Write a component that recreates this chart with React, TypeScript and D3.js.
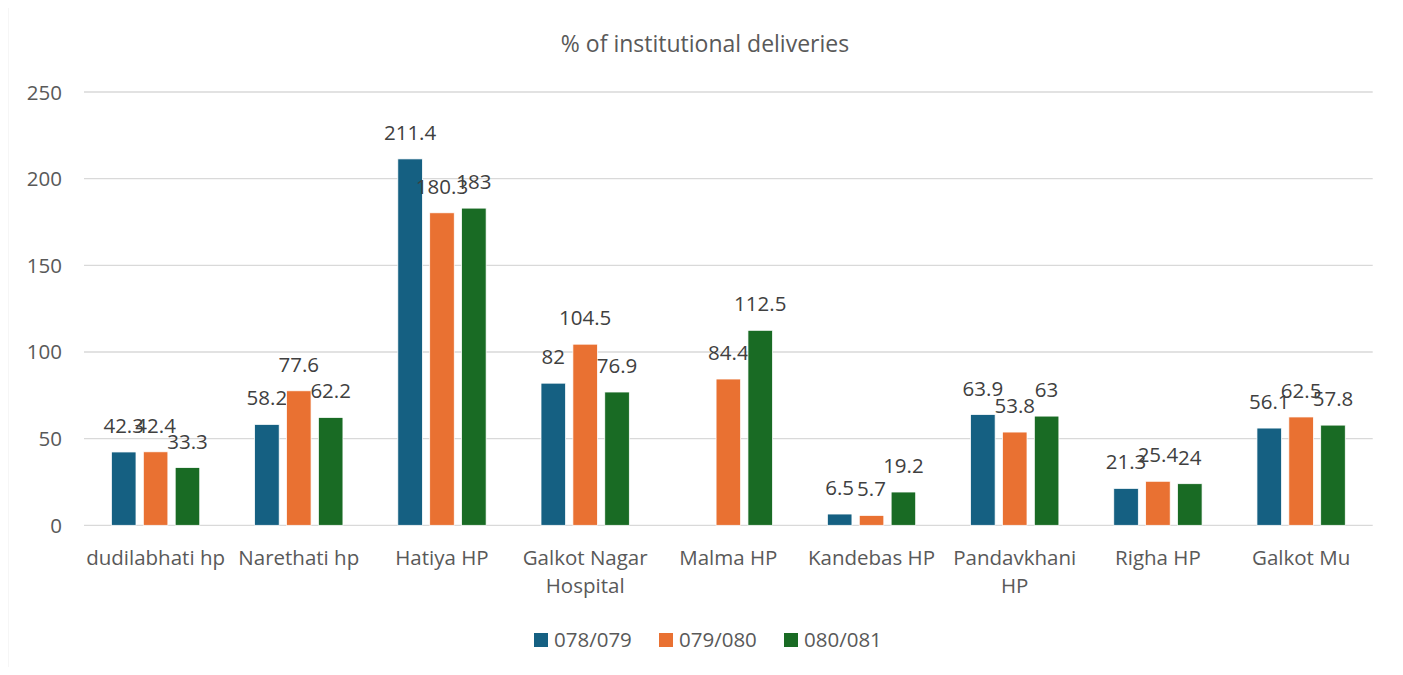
import React from "react";
import * as d3 from "d3";

const title = "% of institutional deliveries";
const categories = [
  "dudilabhati hp",
  "Narethati hp",
  "Hatiya HP",
  "Galkot Nagar Hospital",
  "Malma HP",
  "Kandebas HP",
  "Pandavkhani HP",
  "Righa HP",
  "Galkot Mu",
];
const categoryLabelLines = [
  ["dudilabhati hp"],
  ["Narethati hp"],
  ["Hatiya HP"],
  ["Galkot Nagar", "Hospital"],
  ["Malma HP"],
  ["Kandebas HP"],
  ["Pandavkhani", "HP"],
  ["Righa HP"],
  ["Galkot Mu"],
];
const seriesNames = ["078/079", "079/080", "080/081"];
const s078: (number | null)[] = [42.3, 58.2, 211.4, 82, null, 6.5, 63.9, 21.3, 56.1];
const s079: (number | null)[] = [42.4, 77.6, 180.3, 104.5, 84.4, 5.7, 53.8, 25.4, 62.5];
const s080: (number | null)[] = [33.3, 62.2, 183, 76.9, 112.5, 19.2, 63, 24, 57.8];
const seriesValues = [s078, s079, s080];
const colors = ["#156082", "#E97132", "#196B24"];
const yTicks = [0, 50, 100, 150, 200, 250];

const W = 1403;
const H = 675;
const FONT = "'Open Sans', 'Noto Sans', sans-serif";
const FS = 20.5;

export default function App() {
  const left = 84;
  const right = 1372.7;
  const top = 92;
  const bottom = 525.3;
  const y = d3.scaleLinear().domain([0, 250]).range([bottom, top]);
  const x0 = d3.scaleBand<string>().domain(categories).range([left, right]).padding(0);
  const step = x0.bandwidth();
  const groupW = 88.3;
  const x1 = d3
    .scaleBand<string>()
    .domain(seriesNames)
    .range([(step - groupW) / 2, (step + groupW) / 2])
    .paddingInner(0.23)
    .paddingOuter(0);

  const legendX = [534, 659, 784];

  return (
    <div style={{ margin: -8 }}>
      <svg width={W} height={H} style={{ display: "block", fontFamily: FONT }}>
        <rect x={0} y={0} width={W} height={H} fill="#fff" />
        <rect x={7.5} y={6.5} width={1393.5} height={H} fill="#fff" stroke="#d9d9d9" strokeWidth={1.5} />
        <text x={705} y={52} textAnchor="middle" fontSize={23} fill="#595959">
          {title}
        </text>
        {yTicks.map((t) => (
          <g key={t}>
            <line x1={left} x2={right} y1={y(t)} y2={y(t)} stroke="#d9d9d9" strokeWidth={1.3} />
            <text x={62} y={y(t) + 7.5} textAnchor="end" fontSize={FS} fill="#595959">
              {t}
            </text>
          </g>
        ))}
        {categories.map((c, ci) => (
          <g key={c} transform={`translate(${x0(c)},0)`}>
            {seriesNames.map((s, si) => {
              const v = seriesValues[si][ci];
              if (v === null || v === undefined) return null;
              const bx = x1(s)!;
              const bw = x1.bandwidth();
              return (
                <g key={s}>
                  <rect
                    x={bx}
                    y={y(v)}
                    width={bw}
                    height={y(0) - y(v)}
                    fill={colors[si]}
                    stroke="#ffffff"
                    strokeWidth={0.75}
                  />
                  <text
                    x={bx + bw / 2}
                    y={y(v) - 19}
                    textAnchor="middle"
                    fontSize={FS}
                    fill="#404040"
                  >
                    {v}
                  </text>
                </g>
              );
            })}
            {categoryLabelLines[ci].map((ln, li) => (
              <text
                key={li}
                x={step / 2}
                y={565 + li * 27.5}
                textAnchor="middle"
                fontSize={FS}
                fill="#595959"
              >
                {ln}
              </text>
            ))}
          </g>
        ))}
        {seriesNames.map((s, si) => (
          <g key={s}>
            <rect x={legendX[si]} y={633} width={14} height={14} fill={colors[si]} />
            <text x={legendX[si] + 20} y={647} fontSize={FS} fill="#595959">
              {s}
            </text>
          </g>
        ))}
      </svg>
    </div>
  );
}
